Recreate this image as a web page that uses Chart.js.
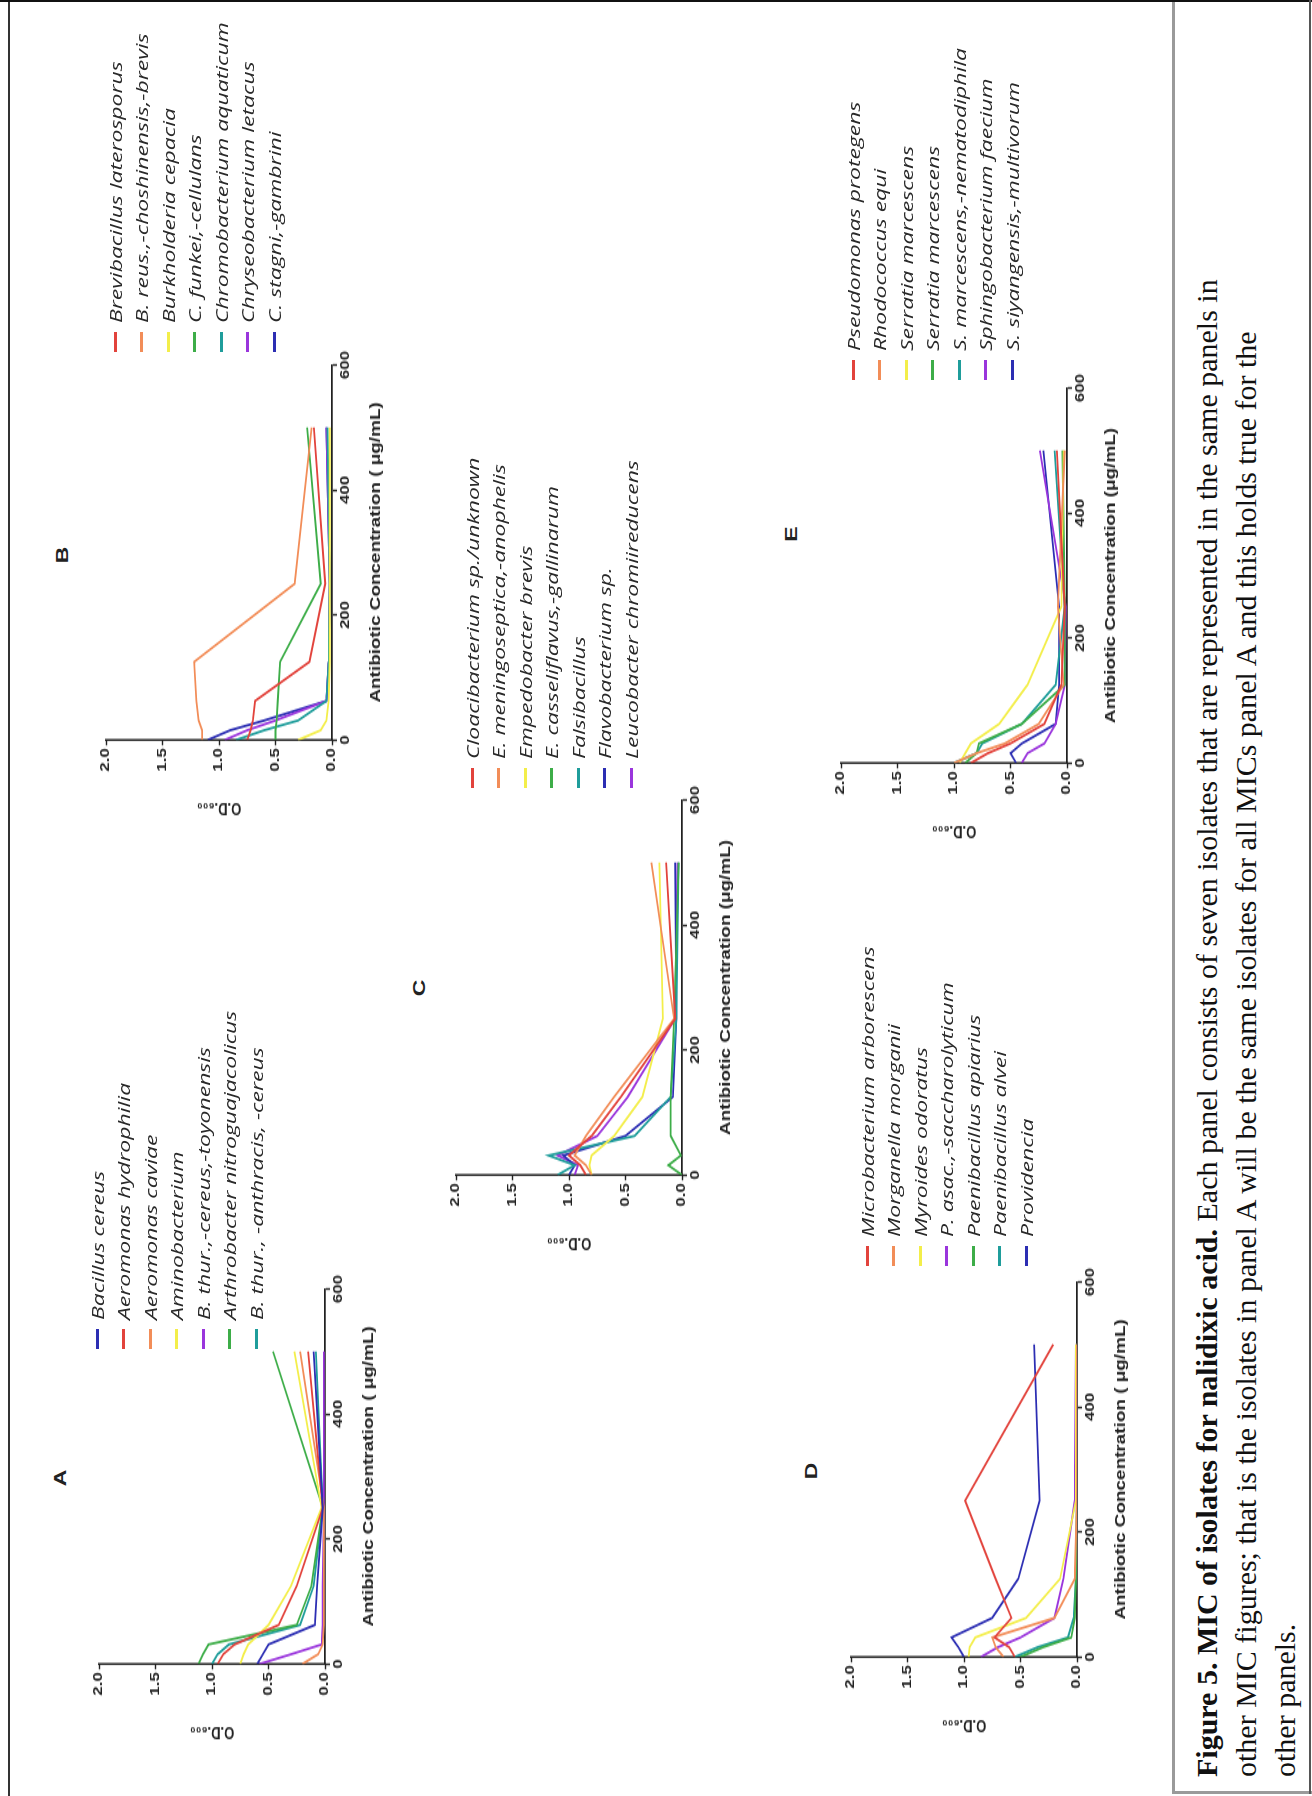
<!DOCTYPE html>
<html>
<head>
<meta charset="utf-8">
<script src="https://cdn.jsdelivr.net/npm/chart.js@4/dist/chart.umd.min.js"></script>
<style>
  html, body { margin: 0; padding: 0; background: #fff; }
  body { width: 1312px; height: 1796px; overflow: hidden; position: relative; }
  /* landscape page, turned a quarter left like the scan */
  #page {
    position: absolute; left: 0; top: 0; width: 1796px; height: 1312px;
    transform-origin: 0 0; transform: translate(0, 1796px) rotate(-90deg);
    overflow: hidden; background: #fff;
  }
  .abs { position: absolute; }
  /* the scanned figure is stretched along its x direction */
  canvas.panel { position: absolute; transform-origin: 0 0; transform: scaleX(1.35); }
  .letter { position: absolute; font: bold 17px "Liberation Sans", Arial, sans-serif; color: #222;
            transform: translate(-50%, -50%) scaleX(1.35); }
  .lg-row { position: absolute; height: 26px; display: flex; align-items: center; white-space: nowrap; }
  .lg-mark { display: inline-block; height: 3px; flex: none; }
  .lg-text { display: inline-block; font-family: "Open Sans", sans-serif; font-style: italic; color: #2a2a2a;
             transform-origin: 0 50%; transform: scaleX(1.35); }
  #caption {
    position: absolute; left: 19px; top: 1187px; width: 1770px;
    font: 30px/39px "Liberation Serif", "Times New Roman", serif; color: #111; white-space: nowrap;
  }
</style>
</head>
<body>
<div id="page">
  <div class="abs" style="left:0;top:8px;width:1796px;height:1.5px;background:#333"></div>
  <div class="abs" style="left:1794px;top:0;width:2px;height:1312px;background:#111"></div>
  <div class="abs" style="left:2px;top:1172px;width:1792px;height:3px;background:#9a9a9a"></div>
  <div class="abs" style="left:2px;top:1172px;width:3px;height:140px;background:#9a9a9a"></div>
  <div class="abs" style="left:2px;top:1309px;width:1794px;height:2px;background:#555"></div>
  <div id="caption"><b>Figure 5. MIC of isolates for nalidixic acid.</b> Each panel consists of seven isolates that are represented in the same panels in<br>other MIC figures; that is the isolates in panel A will be the same isolates for all MICs panel A and this holds true for the<br>other panels.</div>
</div>
<script>
// concentrations tested (µg/mL) and axis ticks
const CONC = [0, 15.6, 31.25, 62.5, 125, 250, 500];
const CONC_TICKS = [0, 200, 400, 600];
const OD_TICKS = [0, 0.5, 1.0, 1.5, 2.0];

const A_NAMES = ["Bacillus cereus", "Aeromonas hydrophilia", "Aeromonas caviae", "Aminobacterium",
  "B. thur.,-cereus,-toyonensis", "Arthrobacter nitroguajacolicus", "B. thur., -anthracis, -cereus"];
const A_OD = [
  [0.60, 0.55, 0.50, 0.09, 0.07, 0.02, 0.10],
  [0.95, 0.90, 0.80, 0.41, 0.25, 0.02, 0.15],
  [0.20, 0.06, 0.02, 0.01, 0.01, 0.01, 0.22],
  [0.75, 0.72, 0.68, 0.50, 0.30, 0.03, 0.27],
  [0.58, 0.30, 0.03, 0.02, 0.02, 0.01, 0.01],
  [1.12, 1.08, 1.03, 0.25, 0.12, 0.02, 0.46],
  [1.00, 0.95, 0.85, 0.22, 0.10, 0.02, 0.08]
];

const B_NAMES = ["Brevibacillus laterosporus", "B. reus.,-choshinensis,-brevis", "Burkholderia cepacia",
  "C. funkei,-cellulans", "Chromobacterium aquaticum", "Chryseobacterium letacus", "C. stagni,-gambrini"];
const B_OD = [
  [0.75, 0.72, 0.70, 0.68, 0.20, 0.06, 0.16],
  [1.15, 1.15, 1.18, 1.20, 1.22, 0.33, 0.18],
  [0.30, 0.10, 0.05, 0.03, 0.02, 0.02, 0.02],
  [0.50, 0.50, 0.49, 0.48, 0.46, 0.10, 0.22],
  [0.85, 0.60, 0.30, 0.05, 0.03, 0.02, 0.04],
  [0.95, 0.75, 0.50, 0.05, 0.03, 0.02, 0.05],
  [1.10, 0.90, 0.60, 0.05, 0.03, 0.02, 0.05]
];

const C_NAMES = ["Cloacibacterium sp./unknown", "E. meningoseptica,-anophelis", "Empedobacter brevis",
  "E. casseliflavus,-gallinarum", "Falsibacillus", "Flavobacterium sp.", "Leucobacter chromiireducens"];
const C_OD = [
  [0.85, 0.90, 1.00, 0.80, 0.54, 0.06, 0.14],
  [0.80, 0.85, 0.95, 0.85, 0.60, 0.07, 0.27],
  [0.80, 0.82, 0.80, 0.60, 0.35, 0.17, 0.20],
  [0.00, 0.12, 0.01, 0.10, 0.10, 0.07, 0.03],
  [1.10, 0.95, 1.18, 0.42, 0.10, 0.05, 0.03],
  [1.00, 0.95, 1.05, 0.50, 0.08, 0.05, 0.06],
  [0.95, 0.92, 1.10, 0.75, 0.48, 0.06, 0.04]
];

const D_NAMES = ["Microbacterium arborescens", "Morganella morganii", "Myroides odoratus",
  "P. asac.,-saccharolyticum", "Paenibacillus apiarius", "Paenibacillus alvei", "Providencia"];
const D_OD = [
  [0.55, 0.60, 0.73, 0.58, 0.72, 0.99, 0.21],
  [0.65, 0.72, 0.75, 0.20, 0.02, 0.00, 0.00],
  [0.96, 0.95, 0.90, 0.45, 0.15, 0.01, 0.01],
  [0.85, 0.70, 0.50, 0.20, 0.12, 0.02, 0.01],
  [0.50, 0.30, 0.05, 0.02, 0.01, 0.00, 0.00],
  [0.55, 0.35, 0.08, 0.03, 0.01, 0.00, 0.00],
  [1.00, 1.05, 1.11, 0.75, 0.52, 0.33, 0.38]
];

const E_NAMES = ["Pseudomonas protegens", "Rhodococcus equi", "Serratia marcescens", "Serratia marcescens",
  "S. marcescens,-nematodiphila", "Sphingobacterium faecium", "S. siyangensis,-multivorum"];
const E_OD = [
  [0.85, 0.70, 0.50, 0.20, 0.05, 0.02, 0.09],
  [1.00, 0.80, 0.55, 0.25, 0.03, 0.08, 0.02],
  [0.95, 0.90, 0.85, 0.60, 0.35, 0.05, 0.03],
  [0.90, 0.80, 0.78, 0.40, 0.02, 0.02, 0.04],
  [1.00, 0.80, 0.75, 0.40, 0.10, 0.02, 0.11],
  [0.40, 0.35, 0.20, 0.10, 0.02, 0.01, 0.24],
  [0.45, 0.50, 0.40, 0.10, 0.07, 0.07, 0.21]
];

// colours
const RED = "#e2433c", ORANGE = "#f28d58", YELLOW = "#f3ee4a", GREEN = "#3dad48",
      TEAL = "#1f9d9b", PURPLE = "#9a35dc", BLUE = "#2c2eb3";
const A_COLORS = [BLUE, RED, ORANGE, YELLOW, PURPLE, GREEN, TEAL];
const STD_COLORS = [RED, ORANGE, YELLOW, GREEN, TEAL, PURPLE, BLUE];
const C_COLORS = [RED, ORANGE, YELLOW, GREEN, TEAL, BLUE, PURPLE];
const D_COLORS = [RED, ORANGE, YELLOW, PURPLE, GREEN, TEAL, BLUE];

// layout in page (landscape) pixels: x,y = top-left of the plot area
const S = 1.35;                       // horizontal stretch of the figure
const PLOT_W = 375, PLOT_H = 226, YW = 82, XH = 56, PT = 14, PR = 24;
const panels = [
  { letter: "A", names: A_NAMES, od: A_OD, colors: A_COLORS, x: 132, y: 99,
    lt: [318, 61], lg: { x: 447, y: 97 }, xt: "Antibiotic Concentration ( \u03bcg/mL)" },
  { letter: "B", names: B_NAMES, od: B_OD, colors: STD_COLORS, x: 1056, y: 106,
    lt: [1241, 63], lg: { x: 1444, y: 115 }, xt: "Antibiotic Concentration ( \u03bcg/mL)" },
  { letter: "C", names: C_NAMES, od: C_OD, colors: C_COLORS, x: 621, y: 456,
    lt: [808, 420], lg: { x: 1008, y: 472 }, xt: "Antibiotic Concentration (\u03bcg/mL)" },
  { letter: "D", names: D_NAMES, od: D_OD, colors: D_COLORS, x: 139, y: 851,
    lt: [325, 812], lg: { x: 530, y: 867 }, xt: "Antibiotic Concentration ( \u03bcg/mL)" },
  { letter: "E", names: E_NAMES, od: E_OD, colors: STD_COLORS, x: 1033, y: 841,
    lt: [1262, 792], lg: { x: 1416, y: 853 }, xt: "Antibiotic Concentration (\u03bcg/mL)" }
];

const page = document.getElementById("page");
const AX = "#222";
const FAM = "'Liberation Sans', Arial, sans-serif";
const tickFont = { family: FAM, size: 12.5, weight: "bold" };

function drawPanel(p) {
  const cv = document.createElement("canvas");
  cv.className = "panel";
  const cw = Math.round((YW + PLOT_W + PR) / S);
  const yw = YW / S, pr = cw - yw - PLOT_W / S;
  cv.width = cw;
  cv.height = PT + PLOT_H + XH;
  cv.style.left = (p.x - YW) + "px";
  cv.style.top = (p.y - PT) + "px";
  page.appendChild(cv);

  const datasets = p.names.map((name, i) => ({
    label: name,
    data: CONC.map((c, j) => ({ x: c, y: p.od[i][j] })),
    borderColor: p.colors[i], backgroundColor: p.colors[i],
    borderWidth: 1.8, pointRadius: 0, tension: 0, fill: false
  }));

  new Chart(cv, {
    type: "line",
    data: { datasets },
    options: {
      responsive: false, animation: false, events: [],
      layout: { padding: { left: 0, top: PT, right: pr, bottom: 0 } },
      plugins: { legend: { display: false }, tooltip: { enabled: false } },
      scales: {
        x: {
          type: "linear", min: 0, max: 600,
          afterBuildTicks: (s) => { s.ticks = CONC_TICKS.map((v) => ({ value: v })); },
          afterFit: (s) => { s.height = XH; },
          grid: { drawOnChartArea: false, drawTicks: true, tickLength: 5, color: AX, tickWidth: 1.4 },
          border: { color: AX, width: 1.8 },
          ticks: { color: AX, font: tickFont, padding: 1, maxRotation: 0 },
          title: { display: true, text: p.xt, color: AX, padding: { top: 0, bottom: 3 },
                   font: { family: FAM, size: 14, weight: "bold" } }
        },
        y: {
          min: 0, max: 2,
          afterBuildTicks: (s) => { s.ticks = OD_TICKS.map((v) => ({ value: v })); },
          afterFit: (s) => { s.width = yw; },
          grid: { drawOnChartArea: false, drawTicks: true, tickLength: 4, color: AX, tickWidth: 1.4 },
          border: { color: AX, width: 1.5 },
          ticks: { color: AX, font: tickFont, padding: 2, callback: (v) => Number(v).toFixed(1) },
          title: { display: true, text: "O.D.\u2086\u2080\u2080", color: AX, padding: { top: 3, bottom: 0 },
                   font: { family: FAM, size: 13, weight: "bold" } }
        }
      }
    }
  });

  const lt = document.createElement("div");
  lt.className = "letter";
  lt.textContent = p.letter;
  lt.style.left = p.lt[0] + "px";
  lt.style.top = p.lt[1] + "px";
  page.appendChild(lt);

  p.names.forEach((name, i) => {
    const row = document.createElement("div");
    row.className = "lg-row";
    row.style.left = p.lg.x + "px";
    row.style.top = (p.lg.y + i * 26.5 - 13) + "px";
    row.innerHTML = '<span class="lg-mark" style="width:20px;background:' + p.colors[i] + '"></span>' +
      '<span class="lg-text" style="margin-left:9px;font-size:17px">' + name + "</span>";
    page.appendChild(row);
  });
}

panels.forEach(drawPanel);
</script>
</body>
</html>
